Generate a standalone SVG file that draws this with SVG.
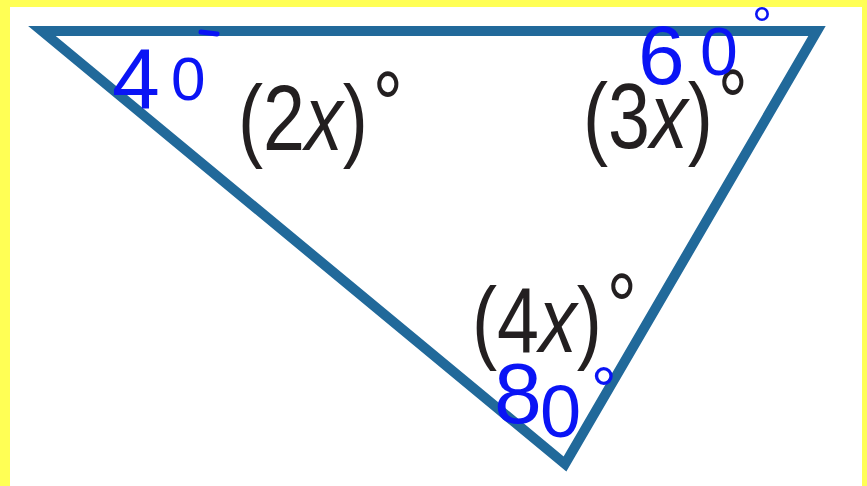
<svg xmlns="http://www.w3.org/2000/svg" width="867" height="486" viewBox="0 0 867 486">
<style>
.lbl{font-family:"Liberation Sans",Arial,sans-serif;font-size:92px;fill:#231f20}
.hw{font-family:"Liberation Sans",Arial,sans-serif;fill:#0a14f5}
.tri{fill:none;stroke:#21699a;stroke-width:10;stroke-linejoin:miter;stroke-miterlimit:6}
</style>
<rect x="0" y="0" width="867" height="486" fill="#ffff55"/>
<rect x="10" y="7" width="852" height="479" fill="#ffffff"/>
<g id="triangle">
<polygon class="tri" points="42,31 817,31 565,464"/>
</g>
<g id="label-2x">
<text class="lbl" transform="translate(238,150) scale(0.82,1)">(2<tspan font-style="italic">x</tspan>)<tspan dx="6" dy="-14">°</tspan></text>
</g>
<g id="label-3x">
<text class="lbl" transform="translate(583,148) scale(0.82,1)">(3<tspan font-style="italic">x</tspan>)<tspan dx="6" dy="-14">°</tspan></text>
</g>
<g id="label-4x">
<text class="lbl" transform="translate(472,352) scale(0.82,1)">(4<tspan font-style="italic">x</tspan>)<tspan dx="6" dy="-14">°</tspan></text>
</g>
<g id="hand-40">
<text class="hw"><tspan x="112" y="108" font-size="86">4</tspan><tspan x="171" y="100" font-size="62">0</tspan></text>
<path d="M201,32 L217,34" stroke="#0a14f5" stroke-width="5" stroke-linecap="round" fill="none"/>
</g>
<g id="hand-60">
<text class="hw"><tspan x="638" y="84" font-size="84">6</tspan><tspan x="700" y="75" font-size="68">0</tspan><tspan x="752" y="42" font-size="50">°</tspan></text>
</g>
<g id="hand-80">
<text class="hw"><tspan x="494" y="423" font-size="86">8</tspan><tspan x="540" y="437" font-size="74">0</tspan><tspan x="591" y="412" font-size="64">°</tspan></text>
</g>
</svg>
